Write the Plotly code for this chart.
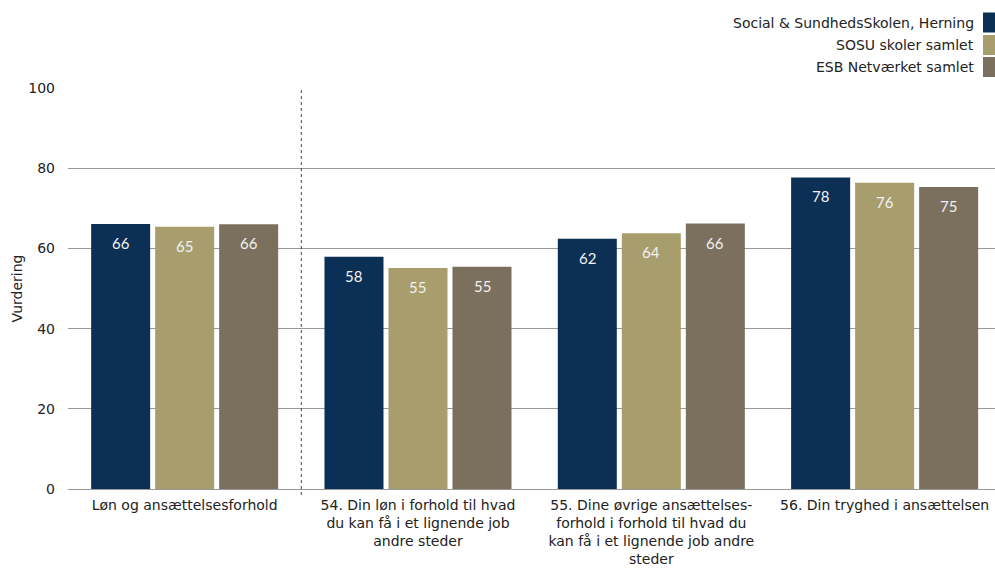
import plotly.graph_objects as go

# Categories and series
categories = [
    "Løn og ansættelsesforhold",
    "54. Din løn i forhold til hvad<br>du kan få i et lignende job<br>andre steder",
    "55. Dine øvrige ansættelses-<br>forhold i forhold til hvad du<br>kan få i et lignende job andre<br>steder",
    "56. Din tryghed i ansættelsen",
]
series_names = [
    "Social & SundhedsSkolen, Herning",
    "SOSU skoler samlet",
    "ESB Netværket samlet",
]
herning = [66.1, 57.9, 62.4, 77.7]
sosu = [65.4, 55.1, 63.8, 76.4]
esb = [66.0, 55.4, 66.2, 75.3]
values = [herning, sosu, esb]
colors = ["#0C2F55", "#A89D6C", "#7B6F5E"]
y_ticks = [0, 20, 40, 60, 80, 100]

W, H = 995, 572
ML, MR, MT, MB = 68, 0, 88, 83
PW, PH = W - ML - MR, H - MT - MB
BARGAP = 0.177
BARGROUPGAP = 0.078
FONT = "DejaVu Sans"
TXT = "#222222"


def px_x(px):
    return (px - ML) / PW


def px_y(py):
    return (H - MB - py) / PH


fig = go.Figure()
for name, vals, col in zip(series_names, values, colors):
    fig.add_trace(go.Bar(
        x=list(range(len(categories))),
        y=vals,
        name=name,
        marker=dict(color=col, line=dict(width=0)),
        showlegend=False,
        hoverinfo="skip",
    ))

# Value labels inside the top of each bar
slot = (1 - BARGAP) / len(values)
annotations = []
for i, vals in enumerate(values):
    offset = (i - (len(values) - 1) / 2) * slot
    for j, v in enumerate(vals):
        annotations.append(dict(
            x=j + offset, y=v, xref="x", yref="y",
            text=f"{v:.0f}", showarrow=False,
            yanchor="middle", yshift=-19,
            font=dict(family="Lato", size=15, color="#F2F2F2"),
        ))

# Legend: right-aligned text with colour squares on the right
legend_rows = [22.5, 45, 67]
shapes = []
for name, col, yc in zip(series_names, colors, legend_rows):
    annotations.append(dict(
        x=px_x(976), y=px_y(yc), xref="paper", yref="paper",
        text=name, showarrow=False, xanchor="right", yanchor="middle",
        font=dict(family=FONT, size=14, color=TXT),
    ))
    shapes.append(dict(
        type="rect", xref="paper", yref="paper",
        x0=px_x(983), x1=px_x(995), y0=px_y(yc + 10), y1=px_y(yc - 10),
        fillcolor=col, line=dict(width=0),
    ))

# Dotted separator between the overall theme and its questions
shapes.append(dict(
    type="line", xref="x", yref="paper", x0=0.5, x1=0.5, y0=-0.015, y1=1,
    line=dict(color="#444444", width=1, dash="dot"),
))

fig.update_layout(
    width=W, height=H,
    margin=dict(l=ML, r=MR, t=MT, b=MB),
    paper_bgcolor="white", plot_bgcolor="white",
    barmode="group", bargap=BARGAP, bargroupgap=BARGROUPGAP,
    font=dict(family=FONT, size=14, color=TXT),
    annotations=annotations,
    shapes=shapes,
)

fig.update_xaxes(
    tickmode="array", tickvals=list(range(len(categories))), ticktext=categories,
    range=[-0.5, 3.473], showgrid=False, zeroline=False,
    showline=True, linecolor="#999999", linewidth=1, ticks="",
    ticklabelstandoff=3,
    tickfont=dict(family=FONT, size=14, color=TXT),
)
fig.update_yaxes(
    range=[0, 100], tickvals=y_ticks, showgrid=True, gridcolor="#999999", gridwidth=1,
    zeroline=False, showline=False, ticks="", ticklabelstandoff=12,
    title=dict(text="Vurdering", standoff=2, font=dict(family=FONT, size=14, color=TXT)),
    tickfont=dict(family=FONT, size=14, color=TXT),
)

fig.write_html("out.html")
